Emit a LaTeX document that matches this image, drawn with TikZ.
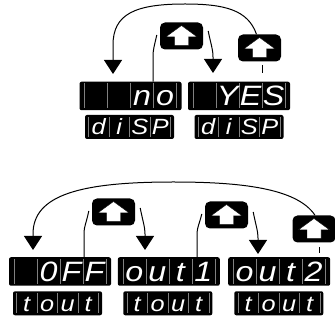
\documentclass[tikz,border=0pt]{standalone}
\usepackage{fontspec}
\newfontfamily\segfont{Liberation Sans}[FakeStretch=1.15]
\usetikzlibrary{arrows.meta}
\tikzset{
  btn/.style={fill=black,rounded corners=5pt,minimum width=43pt,minimum height=27pt,inner sep=0pt},
  bigd/.style={fill=black,rounded corners=2pt,minimum width=102pt,minimum height=28.5pt,inner sep=0pt},
  smalld/.style={fill=black,rounded corners=2pt,minimum width=89pt,minimum height=24pt,inner sep=0pt},
  sepline/.style={draw=black!50,line width=0.6pt},
  bchar/.style={text=white,inner sep=0pt,anchor=base,font=\segfont\itshape\fontsize{28}{28}\selectfont},
  schar/.style={text=white,inner sep=0pt,anchor=base,font=\segfont\itshape\fontsize{22}{22}\selectfont},
  conn/.style={draw=black,line width=1pt},
  arr/.style={conn,-{Triangle[width=18pt,length=14pt]}},
}
\newcommand\upbtn[3]{%
  \node[btn] (#1) at (#2,#3) {};
  \fill[white,draw=black,line width=0.4pt] ([shift={(0,-10.5)}]#1.center) -- ([shift={(15.5,0.8)}]#1.center)
    -- ([shift={(7,0.8)}]#1.center) -- ([shift={(7,9.5)}]#1.center) -- ([shift={(-7,9.5)}]#1.center)
    -- ([shift={(-7,0.8)}]#1.center) -- ([shift={(-15.5,0.8)}]#1.center) -- cycle;}
\newcommand\bigdisp[7]{%
  \node[bigd] (#1) at (#2,#3) {};
  \foreach \k in {-46,-23,0,23,46} {\draw[sepline] ([shift={(\k,-12.5)}]#1.center) -- ([shift={(\k,12.5)}]#1.center);}
  \node[bchar] (#1-a) at ([shift={(-34.5,10)}]#1.center) {#4};
  \node[bchar] (#1-b) at ([shift={(-11.5,10)}]#1.center) {#5};
  \node[bchar] (#1-c) at ([shift={(11.5,10)}]#1.center) {#6};
  \node[bchar] (#1-d) at ([shift={(34.5,10)}]#1.center) {#7};}
\newcommand\smalldisp[7]{%
  \node[smalld] (#1) at (#2,#3) {};
  \foreach \k in {-41,-20.5,0,20.5,41} {\draw[sepline] ([shift={(\k,-10)}]#1.center) -- ([shift={(\k,10)}]#1.center);}
  \node[schar] (#1-a) at ([shift={(-30.75,8)}]#1.center) {#4};
  \node[schar] (#1-b) at ([shift={(-10.25,8)}]#1.center) {#5};
  \node[schar] (#1-c) at ([shift={(10.25,8)}]#1.center) {#6};
  \node[schar] (#1-d) at ([shift={(30.75,8)}]#1.center) {#7};}
\begin{document}
\begin{tikzpicture}[x=1pt,y=-1pt]
\useasboundingbox (0,0) rectangle (335,320);
% ---- top group ----
\bigdisp{dno}{130.5}{96}{}{}{n}{o}
\bigdisp{dyes}{239}{96}{}{Y}{E}{S}
\smalldisp{sd1}{129.5}{127}{d}{i}{S}{P}
\smalldisp{sd2}{239}{127}{d}{i}{S}{P}
\upbtn{tb1}{181.5}{36}
\upbtn{tb2}{259.5}{48}
\coordinate (tt1) at (113,74);
\coordinate (tt2) at (213,73);
\coordinate (tk1) at (262,65);
\coordinate (tk2) at (262,73);
\draw[arr] ([xshift=-3pt]tb2.north) .. controls (248,10) and (225,4) .. (185,4)
  .. controls (135,4) and (113,14) .. (113,45) -- (tt1);
\draw[conn] ([xshift=22.5pt]dno.north) -- (153,57) .. controls (153,50) and (154,47) .. ([shift={(-3,-1)}]tb1.west);
\draw[arr] ([shift={(5,-5)}]tb1.east) .. controls (211,45) and (213,49) .. (213,57) -- (tt2);
\draw[conn,line width=0.8pt] (tk1) -- (tk2);
% ---- bottom group ----
\bigdisp{doff}{60}{271.5}{}{0}{F}{F}
\bigdisp{dout1}{168.8}{271.5}{o}{u}{t}{1}
\bigdisp{dout2}{279.2}{271.5}{o}{u}{t}{2}
\smalldisp{st1}{57.5}{303.3}{t}{o}{u}{t}
\smalldisp{st2}{167.8}{303.3}{t}{o}{u}{t}
\smalldisp{st3}{278.8}{303.3}{t}{o}{u}{t}
\upbtn{bb1}{113.5}{212}
\upbtn{bb2}{226.5}{215}
\upbtn{bb3}{314}{229}
\coordinate (bt1) at (33,250);
\coordinate (bt2) at (145,250);
\coordinate (bt3) at (258,254);
\coordinate (bk1) at (319,247);
\coordinate (bk2) at (319,253);
\draw[arr] ([xshift=1pt]bb3.north) .. controls (297,188) and (240,182) .. (173,182)
  .. controls (80,182) and (33,195) .. (33,234) -- (bt1);
\draw[conn] ([xshift=24pt]doff.north) -- (84,233) .. controls (84,227) and (86,224) .. ([shift={(-3,-1)}]bb1.west);
\draw[arr] ([shift={(5,-4)}]bb1.east) .. controls (143,222) and (145,227) .. (145,234) -- (bt2);
\draw[conn] ([xshift=28.2pt]dout1.north) -- (197,234) .. controls (197,228) and (199,225) .. ([shift={(-3,-1)}]bb2.west);
\draw[arr] ([shift={(5,-3)}]bb2.east) .. controls (256,226) and (258,231) .. (258,238) -- (bt3);
\draw[conn,line width=0.8pt] (bk1) -- (bk2);
\end{tikzpicture}
\end{document}
